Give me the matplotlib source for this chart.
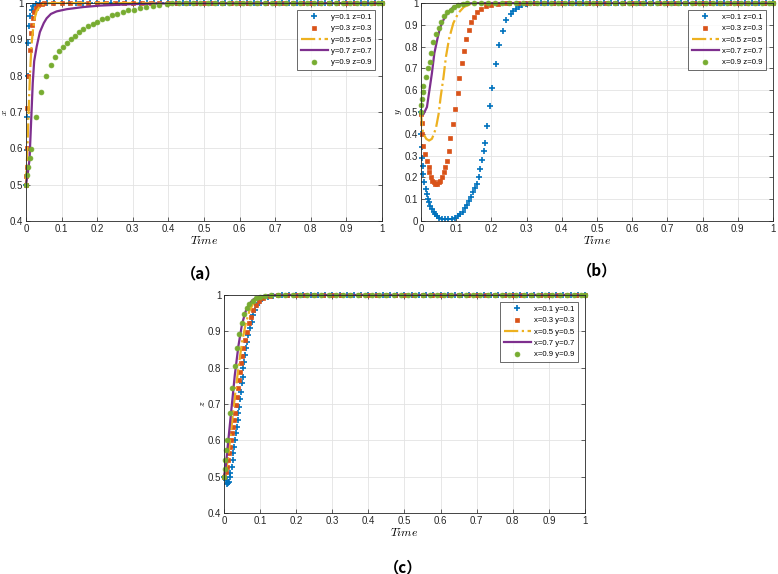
import numpy as np
import matplotlib
matplotlib.use('Agg')
import matplotlib.pyplot as plt

plt.rcParams['font.family'] = ['Liberation Sans', 'DejaVu Sans']
plt.rcParams['mathtext.fontset'] = 'cm'

BLUE, ORANGE, YELLOW, PURPLE, GREEN = '#0072BD', '#D95319', '#EDB120', '#7E2F8E', '#77AC30'

# time steps along y=1 once each curve has settled
tail_plus = [0.02, 0.04, 0.06, 0.08, 0.10, 0.12, 0.14, 0.16, 0.18, 0.20, 0.22, 0.24, 0.26,
             0.28, 0.30, 0.32, 0.34, 0.36, 0.38, 0.40, 0.42, 0.44, 0.46, 0.48, 0.50, 0.52,
             0.54, 0.56, 0.58, 0.60, 0.62, 0.64, 0.66, 0.68, 0.70, 0.72, 0.74, 0.76, 0.78,
             0.80, 0.82, 0.84, 0.86, 0.88, 0.90, 0.92, 0.94, 0.96, 0.98, 1.00]
tail_square = [0.025, 0.05, 0.075, 0.10, 0.125, 0.15, 0.175, 0.20, 0.225, 0.25, 0.275, 0.30,
               0.325, 0.35, 0.375, 0.40, 0.425, 0.45, 0.475, 0.50, 0.525, 0.55, 0.575, 0.60,
               0.625, 0.65, 0.675, 0.70, 0.725, 0.75, 0.775, 0.80, 0.825, 0.85, 0.875, 0.90,
               0.925, 0.95, 0.975, 1.00]
tail_circle = [0.01, 0.03, 0.05, 0.07, 0.09, 0.11, 0.13, 0.15, 0.17, 0.19, 0.21, 0.23, 0.25,
               0.27, 0.29, 0.31, 0.33, 0.35, 0.37, 0.39, 0.41, 0.43, 0.45, 0.47, 0.49, 0.51,
               0.53, 0.55, 0.57, 0.59, 0.61, 0.63, 0.65, 0.67, 0.69, 0.71, 0.73, 0.75, 0.77,
               0.79, 0.81, 0.83, 0.85, 0.87, 0.89, 0.91, 0.93, 0.95, 0.97, 0.99, 1.00]

# ---- panel (a): x over time
a_labels = ['y=0.1 z=0.1', 'y=0.3 z=0.3', 'y=0.5 z=0.5', 'y=0.7 z=0.7', 'y=0.9 z=0.9']
a1_t = [0, 0.002, 0.004, 0.006, 0.007, 0.009, 0.012, 0.016, 0.021, 0.028]
a1_v = [0.5, 0.595, 0.687, 0.798, 0.89, 0.936, 0.963, 0.982, 0.991, 0.996]
a2_t = [0, 0.001, 0.002, 0.003, 0.004, 0.007, 0.010, 0.013, 0.016, 0.019, 0.022, 0.028, 0.035, 0.044]
a2_v = [0.5, 0.525, 0.55, 0.6, 0.71, 0.8, 0.87, 0.917, 0.94, 0.959, 0.974, 0.986, 0.994, 0.998]
a3_t = [0, 0.004, 0.008, 0.012, 0.016, 0.02, 0.025, 0.03, 0.04, 0.05, 0.07, 1.0]
a3_v = [0.5, 0.6, 0.72, 0.82, 0.89, 0.93, 0.96, 0.978, 0.992, 0.998, 1.0, 1.0]
a4_t = [0, 0.005, 0.01, 0.013, 0.016, 0.019, 0.023, 0.03, 0.039, 0.05, 0.058, 0.07, 0.086,
        0.114, 0.161, 0.208, 0.3, 0.4, 1.0]
a4_v = [0.5, 0.53, 0.57, 0.64, 0.71, 0.78, 0.84, 0.88, 0.92, 0.945, 0.958, 0.97, 0.977,
        0.983, 0.989, 0.993, 0.997, 0.999, 1.0]
a5_t = [0, 0.004, 0.0066, 0.01, 0.013, 0.027, 0.041, 0.055, 0.069, 0.081, 0.093, 0.105, 0.114,
        0.126, 0.137, 0.148, 0.161, 0.173, 0.187, 0.199, 0.214, 0.227, 0.242, 0.255, 0.272,
        0.287, 0.302, 0.319, 0.336, 0.356, 0.373, 0.396]
a5_v = [0.5, 0.526, 0.549, 0.574, 0.597, 0.687, 0.754, 0.799, 0.83, 0.851, 0.868, 0.88, 0.891,
        0.902, 0.91, 0.919, 0.928, 0.936, 0.943, 0.949, 0.955, 0.96, 0.966, 0.971, 0.974,
        0.98, 0.982, 0.985, 0.988, 0.993, 0.994, 0.996]

# ---- panel (b): y over time
b_labels = ['x=0.1 z=0.1', 'x=0.3 z=0.3', 'x=0.5 z=0.5', 'x=0.7 z=0.7', 'x=0.9 z=0.9']
b1_t = [0, 0.001, 0.002, 0.003, 0.005, 0.007, 0.01, 0.014, 0.017, 0.02, 0.023, 0.026, 0.031,
        0.036, 0.04, 0.045, 0.051, 0.059, 0.068, 0.078, 0.087, 0.096, 0.104, 0.11, 0.118,
        0.125, 0.131, 0.137, 0.143, 0.148, 0.154, 0.16, 0.165, 0.169, 0.172, 0.178, 0.183,
        0.188, 0.196, 0.202, 0.213, 0.223, 0.234, 0.242, 0.256, 0.262, 0.27, 0.279, 0.288, 0.298]
b1_v = [0.5, 0.4, 0.34, 0.29, 0.254, 0.215, 0.177, 0.146, 0.123, 0.103, 0.085, 0.069, 0.054,
        0.042, 0.031, 0.023, 0.015, 0.011, 0.008, 0.008, 0.011, 0.015, 0.023, 0.031, 0.043,
        0.058, 0.074, 0.092, 0.111, 0.131, 0.15, 0.172, 0.2, 0.238, 0.28, 0.32, 0.357,
        0.438, 0.526, 0.612, 0.72, 0.808, 0.874, 0.92, 0.95, 0.962, 0.972, 0.982, 0.989, 0.994]
b2_t = [0, 0.002, 0.004, 0.007, 0.011, 0.017, 0.022, 0.024, 0.028, 0.032, 0.036, 0.04, 0.045,
        0.05, 0.054, 0.059, 0.064, 0.068, 0.073, 0.079, 0.083, 0.091, 0.096, 0.104, 0.109,
        0.117, 0.122, 0.129, 0.136, 0.143, 0.15, 0.159, 0.171, 0.185, 0.2, 0.218, 0.242]
b2_v = [0.49, 0.45, 0.4, 0.343, 0.308, 0.274, 0.246, 0.223, 0.2, 0.185, 0.177, 0.172, 0.172,
        0.177, 0.185, 0.2, 0.223, 0.246, 0.274, 0.32, 0.38, 0.443, 0.512, 0.585, 0.657,
        0.723, 0.78, 0.834, 0.877, 0.911, 0.938, 0.957, 0.972, 0.985, 0.992, 0.995, 1.0]
b3_t = [0, 0.003, 0.007, 0.015, 0.023, 0.031, 0.037, 0.043, 0.05, 0.056, 0.064, 0.071, 0.08,
        0.092, 0.106, 0.122, 0.143, 0.176, 1.0]
b3_v = [0.5, 0.43, 0.4, 0.377, 0.369, 0.377, 0.4, 0.43, 0.49, 0.57, 0.66, 0.754, 0.838,
        0.908, 0.954, 0.982, 0.997, 1.0, 1.0]
b4_t = [0, 0.007, 0.017, 0.024, 0.031, 0.038, 0.047, 0.054, 0.064, 0.075, 0.092, 0.115, 0.16, 1.0]
b4_v = [0.5, 0.49, 0.523, 0.6, 0.677, 0.77, 0.838, 0.885, 0.923, 0.954, 0.982, 0.997, 1.0, 1.0]
b5_t = [0, 0.001, 0.003, 0.005, 0.007, 0.014, 0.019, 0.026, 0.029, 0.034, 0.043, 0.051, 0.056,
        0.066, 0.075, 0.084, 0.094, 0.106, 0.12]
b5_v = [0.5, 0.53, 0.56, 0.59, 0.62, 0.66, 0.7, 0.73, 0.77, 0.82, 0.858, 0.885, 0.915, 0.94,
        0.957, 0.969, 0.982, 0.992, 0.997]

# ---- panel (c): z over time
c_labels = ['x=0.1 y=0.1', 'x=0.3 y=0.3', 'x=0.5 y=0.5', 'x=0.7 y=0.7', 'x=0.9 y=0.9']
c1_t = [0, 0.003, 0.006, 0.009, 0.012, 0.015, 0.017, 0.018, 0.021, 0.024, 0.026, 0.029, 0.03,
        0.033, 0.035, 0.038, 0.04, 0.042, 0.044, 0.046, 0.049, 0.052, 0.054, 0.056, 0.058,
        0.061, 0.065, 0.067, 0.072, 0.077, 0.081, 0.086, 0.092, 0.1, 0.109, 0.123, 0.137]
c1_v = [0.5, 0.495, 0.49, 0.481, 0.483, 0.485, 0.5, 0.51, 0.527, 0.545, 0.564, 0.582, 0.6,
        0.619, 0.637, 0.655, 0.674, 0.692, 0.715, 0.734, 0.757, 0.775, 0.798, 0.816, 0.835,
        0.853, 0.871, 0.89, 0.908, 0.926, 0.945, 0.959, 0.972, 0.984, 0.991, 0.995, 0.998]
c2_t = [0, 0.006, 0.009, 0.012, 0.015, 0.017, 0.019, 0.022, 0.024, 0.027, 0.03, 0.032, 0.035,
        0.038, 0.041, 0.044, 0.048, 0.051, 0.054, 0.058, 0.063, 0.068, 0.074, 0.081, 0.089,
        0.098, 0.109, 0.127]
c2_v = [0.5, 0.513, 0.527, 0.545, 0.564, 0.582, 0.6, 0.619, 0.637, 0.655, 0.674, 0.697, 0.72,
        0.743, 0.766, 0.789, 0.812, 0.832, 0.853, 0.876, 0.899, 0.922, 0.94, 0.959, 0.972,
        0.984, 0.993, 0.997]
c3_t = [0, 0.01, 0.02, 0.03, 0.04, 0.05, 0.06, 0.07, 0.08, 0.09, 0.1, 0.12, 0.15, 1.0]
c3_v = [0.5, 0.54, 0.63, 0.72, 0.8, 0.87, 0.92, 0.955, 0.975, 0.988, 0.994, 0.998, 1.0, 1.0]
c4_t = [0, 0.005, 0.01, 0.02, 0.03, 0.04, 0.05, 0.06, 0.07, 0.08, 0.1, 0.13, 1.0]
c4_v = [0.5, 0.53, 0.58, 0.68, 0.78, 0.86, 0.92, 0.955, 0.975, 0.987, 0.996, 1.0, 1.0]
c5_t = [0, 0.002, 0.004, 0.006, 0.009, 0.017, 0.023, 0.03, 0.037, 0.042, 0.049, 0.055, 0.063,
        0.07, 0.079, 0.089, 0.1, 0.114]
c5_v = [0.5, 0.522, 0.545, 0.573, 0.6, 0.676, 0.745, 0.804, 0.853, 0.892, 0.924, 0.947, 0.963,
        0.975, 0.984, 0.991, 0.995, 0.998]


def with_tail(t, v, tail):
    tt = [s for s in tail if s > t[-1] + 0.005]
    return list(t) + tt, list(v) + [1.0] * len(tt)


def draw_panel(ax, series, labels, ylabel, ylim, yticks):
    (t1, v1), (t2, v2), (t3, v3), (t4, v4), (t5, v5) = series
    x, y = with_tail(t1, v1, tail_plus)
    ax.plot(x, y, '+', color=BLUE, ms=5, mew=1.2, label=labels[0], clip_on=False)
    x, y = with_tail(t2, v2, tail_square)
    ax.plot(x, y, 's', color=ORANGE, ms=3.2, mew=0.5, label=labels[1], clip_on=False)
    ax.plot(t3, v3, '-.', color=YELLOW, lw=1.6, label=labels[2], clip_on=False)
    ax.plot(t4, v4, '-', color=PURPLE, lw=1.6, label=labels[3], clip_on=False)
    x, y = with_tail(t5, v5, tail_circle)
    ax.plot(x, y, 'o', color=GREEN, ms=3.5, mew=0.5, label=labels[4], clip_on=False)

    ax.set_xlim(0, 1)
    ax.set_ylim(*ylim)
    ax.set_xticks(np.arange(0, 1.01, 0.1))
    ax.set_xticklabels(['0', '0.1', '0.2', '0.3', '0.4', '0.5', '0.6', '0.7', '0.8', '0.9', '1'])
    ax.set_yticks(yticks)
    ax.set_yticklabels([('%g' % v) for v in yticks])
    ax.tick_params(direction='in', length=3, width=0.5, labelsize=7, pad=2,
                   top=True, right=True, colors='#262626')
    ax.grid(True, color='#e3e3e3', lw=0.6)
    ax.set_axisbelow(True)
    for sp in ax.spines.values():
        sp.set_linewidth(0.6)
        sp.set_color('#262626')
    ax.set_xlabel(r'$Time$', fontsize=8.5, labelpad=1)
    ax.set_ylabel(ylabel, fontsize=7)
    ax.yaxis.set_label_coords(-0.047, 0.5)
    leg = ax.legend(loc='upper right', fontsize=5.6, frameon=True, fancybox=False,
                    edgecolor='#262626', handlelength=3.5, handletextpad=0.4,
                    borderpad=0.45, labelspacing=0.5, borderaxespad=0.9)
    leg.get_frame().set_linewidth(0.6)


fig = plt.figure(figsize=(7.78, 5.74), dpi=100)
ax_a = fig.add_axes([0.0334, 0.615, 0.4576, 0.3797])
ax_b = fig.add_axes([0.5411, 0.615, 0.4524, 0.3797])
ax_c = fig.add_axes([0.2879, 0.1063, 0.464, 0.3798])

yt_a = [0.4, 0.5, 0.6, 0.7, 0.8, 0.9, 1]
yt_b = [0, 0.1, 0.2, 0.3, 0.4, 0.5, 0.6, 0.7, 0.8, 0.9, 1]

draw_panel(ax_a, [(a1_t, a1_v), (a2_t, a2_v), (a3_t, a3_v), (a4_t, a4_v), (a5_t, a5_v)],
           a_labels, r'$x$', (0.4, 1), yt_a)
draw_panel(ax_b, [(b1_t, b1_v), (b2_t, b2_v), (b3_t, b3_v), (b4_t, b4_v), (b5_t, b5_v)],
           b_labels, r'$y$', (0, 1), yt_b)
draw_panel(ax_c, [(c1_t, c1_v), (c2_t, c2_v), (c3_t, c3_v), (c4_t, c4_v), (c5_t, c5_v)],
           c_labels, r'$z$', (0.4, 1), yt_a)

cap_font = ['Noto Sans CJK SC', 'DejaVu Sans']
fig.text(0.258, 1 - 273 / 574, '（a）', ha='center', va='center', fontsize=11,
         family=cap_font, weight='bold')
fig.text(0.767, 1 - 270 / 574, '（b）', ha='center', va='center', fontsize=11,
         family=cap_font, weight='bold')
fig.text(0.518, 1 - 567 / 574, '（c）', ha='center', va='center', fontsize=11,
         family=cap_font, weight='bold')

plt.savefig('out.png', dpi=100)
